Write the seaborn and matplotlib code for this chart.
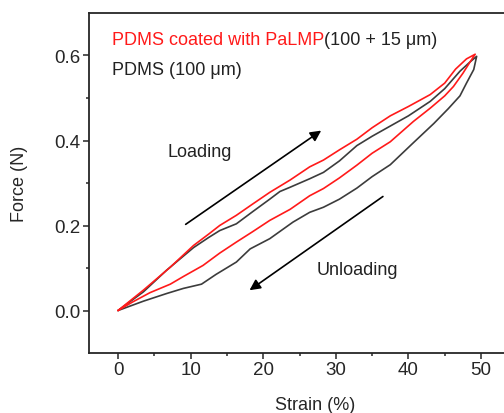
import pandas as pd
import matplotlib
matplotlib.use("Agg")
import matplotlib.pyplot as plt
import seaborn as sns


# strain (%) / force (N) read off the hysteresis loops
# PDMS coated with PaLMP: loading then unloading
coated_load_strain = [0, 3.5, 7.2, 10.4, 12.5, 14, 16.3, 18.5, 20.9, 23.7, 26.4, 28.3,
                      30.5, 32.9, 35, 37.5, 40, 43, 45, 46.5, 48, 49.2]
coated_load_force = [0, 0.048, 0.102, 0.153, 0.18, 0.2, 0.224, 0.25, 0.278, 0.307, 0.338, 0.354,
                     0.378, 0.403, 0.43, 0.458, 0.48, 0.508, 0.535, 0.568, 0.592, 0.603]
coated_unload_strain = [49.2, 48.5, 47.5, 46.2, 45, 43, 40.7, 37.5, 35, 32.9, 30.5, 28.3,
                        26.4, 23.7, 20.9, 18.5, 16.3, 14, 11.7, 9, 7.2, 4.4, 2, 0]
coated_unload_force = [0.603, 0.585, 0.558, 0.527, 0.505, 0.476, 0.445, 0.397, 0.37, 0.342, 0.312, 0.287,
                       0.27, 0.238, 0.212, 0.185, 0.161, 0.135, 0.106, 0.08, 0.062, 0.042, 0.02, 0]

# bare PDMS: loading then unloading
pdms_load_strain = [0, 3.5, 6.7, 10.4, 12.5, 14, 16.3, 18.5, 20.9, 22.3, 23.7, 26.4,
                    28.3, 30.5, 32.9, 35, 37.5, 40, 43, 45, 47.1, 48.5, 49.4]
pdms_load_force = [0, 0.044, 0.095, 0.148, 0.172, 0.188, 0.204, 0.232, 0.262, 0.28, 0.29, 0.31,
                   0.325, 0.352, 0.388, 0.41, 0.434, 0.458, 0.492, 0.522, 0.563, 0.585, 0.598]
pdms_unload_strain = [49.4, 49, 48, 47.1, 45.5, 43.5, 40.7, 37.5, 35, 32.9, 30.5, 28.3,
                      26.4, 24.1, 20.9, 18.2, 16.3, 13.5, 11.5, 9, 6.7, 3.5, 0]
pdms_unload_force = [0.598, 0.567, 0.535, 0.505, 0.475, 0.44, 0.395, 0.343, 0.315, 0.288, 0.262, 0.243,
                     0.231, 0.208, 0.169, 0.145, 0.114, 0.085, 0.062, 0.052, 0.04, 0.022, 0]

sns.set_style("ticks")
plt.rcParams['font.family'] = ['Liberation Sans', 'DejaVu Sans']
plt.rcParams['font.size'] = 13

fig = plt.figure(figsize=(5.04, 4.14), dpi=100)
ax = fig.add_axes([0.1766, 0.1449, 0.893, 0.8213])

coated = pd.DataFrame({"strain": coated_load_strain + coated_unload_strain,
                       "force": coated_load_force + coated_unload_force})
pdms = pd.DataFrame({"strain": pdms_load_strain + pdms_unload_strain,
                     "force": pdms_load_force + pdms_unload_force})

sns.lineplot(data=pdms, x="strain", y="force", sort=False, estimator=None,
             color="#3c3c3c", lw=1.2, ax=ax)
sns.lineplot(data=coated, x="strain", y="force", sort=False, estimator=None,
             color="#ff1a1a", lw=1.2, ax=ax)

ax.set_xlim(-4, 58)
ax.set_ylim(-0.1, 0.7)
ax.set_xticks([0, 10, 20, 30, 40, 50])
ax.set_xticks([5, 15, 25, 35, 45], minor=True)
ax.set_yticks([0.0, 0.2, 0.4, 0.6])
ax.set_yticks([0.1, 0.3, 0.5], minor=True)
ax.yaxis.set_major_formatter(matplotlib.ticker.FormatStrFormatter('%.1f'))
ax.tick_params(which='major', direction='out', length=4, width=1.1, labelsize=13.5, pad=2)
ax.tick_params(which='minor', direction='out', length=2.5, width=1.1)
for s in ax.spines.values():
    s.set_linewidth(1.3)
    s.set_visible(True)

ax.set_xlabel("Strain (%)", fontsize=13)
ax.set_ylabel("Force (N)", fontsize=13, labelpad=19)
ax.xaxis.set_label_coords((315 - 89) / 450, -0.125)

# legend written as text
t = ax.text(-0.87, 0.637, "PDMS coated with PaLMP", color="#ff1a1a", fontsize=13,
            ha="left", va="center")
ax.annotate("(100 + 15 μm)", xy=(1, 0.5), xycoords=t, ha="left", va="center",
            fontsize=13, color="#222222")
ax.text(-0.87, 0.567, "PDMS (100 μm)", color="#222222", fontsize=13, ha="left", va="center")

# direction arrows
ax.annotate("", xy=(28.3, 0.427), xytext=(9, 0.199),
            arrowprops=dict(arrowstyle="-|>", color="black", lw=1.2, mutation_scale=16))
ax.annotate("", xy=(17.8, 0.044), xytext=(36.8, 0.272),
            arrowprops=dict(arrowstyle="-|>", color="black", lw=1.2, mutation_scale=16))
ax.text(11.3, 0.373, "Loading", fontsize=13, ha="center", va="center", color="#222222")
ax.text(33, 0.097, "Unloading", fontsize=13, ha="center", va="center", color="#222222")

fig.savefig("out.png", dpi=100)
